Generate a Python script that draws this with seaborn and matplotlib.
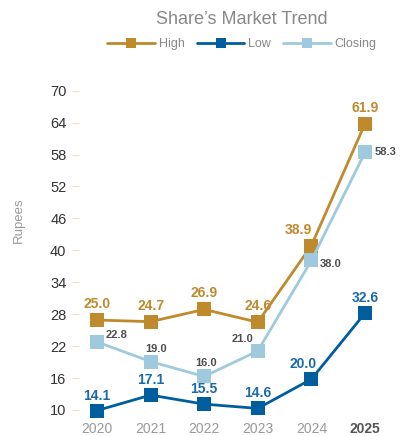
"""
Share's market trend chart
"""

import pandas as pd
import numpy as np
import matplotlib
matplotlib.use('Agg')
import matplotlib.pyplot as plt
import seaborn as sns

# Data (marker positions as drawn, and the value labels printed next to them)
years = ['2020', '2021', '2022', '2023', '2024', '2025']
high = [26.9, 26.6, 28.9, 26.5, 40.9, 63.8]
low = [9.9, 12.8, 11.1, 10.3, 15.8, 28.2]
closing = [22.8, 19.1, 16.3, 21.1, 38.1, 58.4]
high_labels = ['25.0', '24.7', '26.9', '24.6', '38.9', '61.9']
low_labels = ['14.1', '17.1', '15.5', '14.6', '20.0', '32.6']
closing_labels = ['22.8', '19.0', '16.0', '21.0', '38.0', '58.3']
yticks = [10, 16, 22, 28, 34, 40, 46, 52, 58, 64, 70]

df = pd.DataFrame({
    'pos': np.arange(len(years)),
    'High': high,
    'Low': low,
    'Closing': closing,
})

colors = {'High': '#bf8a2c', 'Low': '#005e9e', 'Closing': '#9fcade'}

sns.set_style('white')
plt.rcParams['font.family'] = ['Liberation Sans', 'DejaVu Sans']
narrow = ['Liberation Sans Narrow', 'Liberation Sans', 'DejaVu Sans']

W, H = 402, 436
fig = plt.figure(figsize=(W / 100, H / 100), dpi=100)
ax_l, ax_r, ax_b, ax_t = 79, 390, 418, 80
ax = fig.add_axes([ax_l / W, 1 - ax_b / H, (ax_r - ax_l) / W, (ax_b - ax_t) / H])

for name in ['High', 'Low', 'Closing']:
    sns.lineplot(data=df, x='pos', y=name, ax=ax, color=colors[name], linewidth=2,
                 marker='s', markersize=10, markeredgewidth=0, label=name)

# value labels
for i in range(len(years)):
    dx = -13 if i == 4 else 0
    ax.annotate(high_labels[i], (i, high[i]), xytext=(dx, 16), textcoords='offset pixels',
                ha='center', va='center', fontsize=10, fontweight='bold',
                color=colors['High'], family=narrow)
    dx = -8 if i == 4 else 0
    ax.annotate(low_labels[i], (i, low[i]), xytext=(dx, 15), textcoords='offset pixels',
                ha='center', va='center', fontsize=10, fontweight='bold',
                color='#1a6aab', family=narrow)

closing_offsets = [(20, 7), (5, 13), (2, 13), (-15, 12), (19, -4), (20, 0)]
for i in range(len(years)):
    ax.annotate(closing_labels[i], (i, closing[i]), xytext=closing_offsets[i],
                textcoords='offset pixels', ha='center', va='center', fontsize=8,
                fontweight='bold', color='#4d4d4d', family=narrow)

x_px = 53.6
ax.set_xlim(-(97 - ax_l) / x_px, 5 + (ax_r - 365) / x_px)
y_px = 5.32
ax.set_ylim(10 - (ax_b - 410) / y_px, 70 + (90.7 - ax_t) / y_px)

ax.set_xticks(range(len(years)))
ax.set_xticklabels(years)
ax.set_yticks(yticks)
ax.tick_params(axis='y', direction='out', length=5, width=0.8, color='#fcd9b8',
               labelsize=10.5, labelcolor='#333333', pad=4, left=True)
ax.tick_params(axis='x', length=0, labelsize=10, labelcolor='#999999', pad=3)
for lbl in ax.get_xticklabels():
    if lbl.get_text() == '2025':
        lbl.set_fontweight('bold')
        lbl.set_color('#555555')

for s in ax.spines.values():
    s.set_visible(False)
ax.grid(False)

ax.set_xlabel('')
ax.set_ylabel('Rupees', fontsize=9.5, color='#999999')
ax.yaxis.set_label_coords((25 - ax_l) / (ax_r - ax_l), (ax_b - 220) / (ax_b - ax_t))

fig.text(242 / W, 1 - 20 / H, "Share\u2019s Market Trend", ha='center', va='center',
         fontsize=13, color='#888888')

leg = ax.legend(loc='center', bbox_to_anchor=(242 / W, 1 - 44 / H),
                bbox_transform=fig.transFigure, ncol=3, frameon=False, fontsize=9,
                handlelength=3.8, handletextpad=0.3, columnspacing=1.0, markerscale=0.7)
for t in leg.get_texts():
    t.set_color('#888888')

fig.savefig('out.png', dpi=100)
